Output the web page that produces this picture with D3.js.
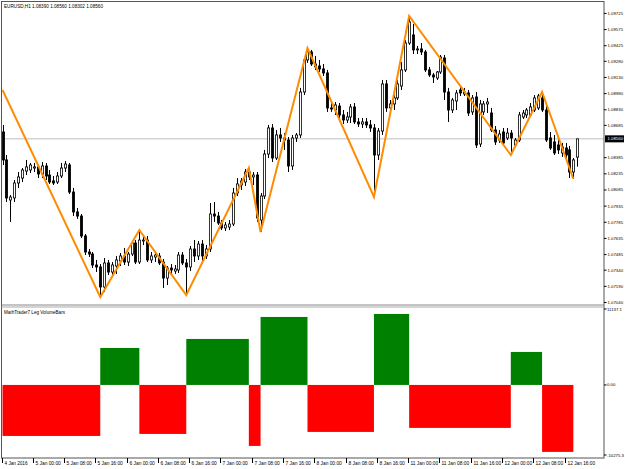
<!DOCTYPE html>
<html>
<head>
<meta charset="utf-8">
<script src="https://cdn.jsdelivr.net/npm/d3@7"></script>
<style>
body { margin: 0; background: #fff; }
svg { display: block; font-family: "Liberation Sans", Arial, sans-serif; }
</style>
</head>
<body>
<svg id="chart" width="625" height="469"></svg>
<script>
// EURUSD H1 candles, 4 Jan 16:00 .. 12 Jan 19:00
const openP = [1.08624,1.08364,1.07992,1.08011,1.08150,1.08196,1.08261,1.08271,1.08289,1.08299,
  1.08234,1.08308,1.08224,1.08169,1.08159,1.08215,1.08289,1.08317,1.08066,1.07881,
  1.07843,1.07658,1.07509,1.07490,1.07388,1.07370,1.07184,1.07407,1.07323,1.07379,
  1.07425,1.07472,1.07416,1.07490,1.07593,1.07416,1.07611,1.07620,1.07435,1.07462,
  1.07472,1.07416,1.07267,1.07360,1.07332,1.07342,1.07481,1.07407,1.07370,1.07537,
  1.07472,1.07583,1.07472,1.07537,1.07862,1.07843,1.07778,1.07732,1.07741,1.07769,
  1.08057,1.08131,1.08159,1.08252,1.08206,1.08224,1.07806,1.08029,1.08419,1.08661,
  1.08382,1.08596,1.08568,1.08549,1.08308,1.08568,1.08596,1.08995,1.09293,1.09367,
  1.09255,1.09237,1.09209,1.09172,1.08847,1.08828,1.08865,1.08782,1.08735,1.08763,
  1.08856,1.08717,1.08698,1.08717,1.08689,1.08661,1.08410,1.08633,1.09070,1.08847,
  1.08884,1.08940,1.09051,1.09200,1.09450,1.09525,1.09386,1.09395,1.09367,1.09200,
  1.09153,1.09125,1.09181,1.09311,1.08995,1.08828,1.08912,1.09014,1.08977,1.08986,
  1.08810,1.08949,1.08512,1.08810,1.08884,1.08800,1.08642,1.08549,1.08624,1.08568,
  1.08614,1.08503,1.08549,1.08763,1.08782,1.08782,1.08828,1.08847,1.08940,1.08828,
  1.08568,1.08531,1.08503,1.08429,1.08475,1.08457,1.08252,1.08390];
const highP = [1.08689,1.08410,1.08038,1.08178,1.08252,1.08289,1.08364,1.08336,1.08336,1.08317,
  1.08345,1.08336,1.08271,1.08215,1.08252,1.08336,1.08354,1.08336,1.08104,1.07918,
  1.07862,1.07676,1.07537,1.07509,1.07435,1.07397,1.07453,1.07435,1.07416,1.07472,
  1.07500,1.07546,1.07509,1.07611,1.07620,1.07713,1.07667,1.07658,1.07509,1.07500,
  1.07500,1.07444,1.07379,1.07397,1.07388,1.07509,1.07509,1.07444,1.07565,1.07620,
  1.07611,1.07620,1.07574,1.07964,1.07973,1.07881,1.07806,1.07788,1.07806,1.08104,
  1.08196,1.08196,1.08280,1.08289,1.08252,1.08252,1.08057,1.08457,1.08689,1.08698,
  1.08642,1.08661,1.08614,1.08577,1.08596,1.08614,1.09033,1.09311,1.09404,1.09386,
  1.09330,1.09293,1.09255,1.09200,1.08893,1.08902,1.08893,1.08828,1.08810,1.08884,
  1.08893,1.08754,1.08754,1.08754,1.08735,1.08698,1.08661,1.09107,1.09107,1.08921,
  1.08967,1.09107,1.09274,1.09478,1.09701,1.09627,1.09423,1.09450,1.09386,1.09228,
  1.09172,1.09190,1.09339,1.09339,1.09033,1.08940,1.09014,1.09060,1.09033,1.09014,
  1.08967,1.08995,1.08921,1.08912,1.08940,1.08847,1.08679,1.08642,1.08661,1.08661,
  1.08642,1.08568,1.08810,1.08828,1.08847,1.08893,1.08967,1.08977,1.08995,1.08865,
  1.08624,1.08596,1.08568,1.08522,1.08522,1.08494,1.08382,1.08560];
const lowP = [1.08317,1.07973,1.07788,1.07973,1.08104,1.08159,1.08224,1.08243,1.08252,1.08196,
  1.08196,1.08178,1.08141,1.08131,1.08141,1.08196,1.08252,1.08048,1.07843,1.07816,
  1.07639,1.07481,1.07462,1.07360,1.07323,1.07091,1.07137,1.07295,1.07295,1.07305,
  1.07379,1.07388,1.07379,1.07472,1.07397,1.07397,1.07574,1.07416,1.07407,1.07416,
  1.07388,1.07175,1.07202,1.07305,1.07305,1.07314,1.07388,1.07109,1.07332,1.07416,
  1.07435,1.07416,1.07444,1.07509,1.07788,1.07760,1.07713,1.07704,1.07713,1.07750,
  1.08029,1.08085,1.08122,1.08178,1.08131,1.07788,1.07695,1.08001,1.08382,1.08345,
  1.08364,1.08531,1.08457,1.08252,1.08271,1.08531,1.08568,1.08967,1.09265,1.09237,
  1.09200,1.09181,1.09144,1.08810,1.08810,1.08782,1.08754,1.08698,1.08707,1.08707,
  1.08698,1.08670,1.08661,1.08661,1.08624,1.08020,1.08364,1.08596,1.08810,1.08810,
  1.08828,1.08921,1.09014,1.09181,1.09432,1.09348,1.09348,1.09339,1.09181,1.09135,
  1.09079,1.09107,1.09163,1.08921,1.08717,1.08800,1.08828,1.08958,1.08958,1.08772,
  1.08782,1.08475,1.08484,1.08782,1.08800,1.08624,1.08503,1.08522,1.08494,1.08549,
  1.08410,1.08494,1.08531,1.08745,1.08754,1.08763,1.08810,1.08828,1.08810,1.08531,
  1.08457,1.08410,1.08419,1.08392,1.08364,1.08196,1.08187,1.08302];
const closeP = [1.08364,1.08011,1.08020,1.08150,1.08206,1.08271,1.08299,1.08317,1.08299,1.08234,
  1.08308,1.08215,1.08159,1.08150,1.08215,1.08289,1.08326,1.08066,1.07881,1.07843,
  1.07658,1.07509,1.07490,1.07388,1.07370,1.07184,1.07407,1.07323,1.07388,1.07435,
  1.07472,1.07416,1.07490,1.07593,1.07416,1.07620,1.07620,1.07435,1.07472,1.07481,
  1.07407,1.07267,1.07360,1.07342,1.07351,1.07481,1.07407,1.07370,1.07537,1.07472,
  1.07583,1.07472,1.07537,1.07862,1.07843,1.07778,1.07732,1.07760,1.07769,1.08057,
  1.08141,1.08169,1.08252,1.08206,1.08224,1.07825,1.08029,1.08419,1.08661,1.08382,
  1.08596,1.08568,1.08549,1.08308,1.08568,1.08596,1.08995,1.09293,1.09367,1.09255,
  1.09228,1.09209,1.09172,1.08847,1.08837,1.08875,1.08782,1.08735,1.08763,1.08856,
  1.08717,1.08698,1.08717,1.08689,1.08661,1.08410,1.08633,1.09070,1.08847,1.08884,
  1.08940,1.09070,1.09200,1.09450,1.09646,1.09386,1.09395,1.09367,1.09200,1.09153,
  1.09135,1.09181,1.09320,1.08995,1.08828,1.08921,1.08986,1.08986,1.08995,1.08800,
  1.08940,1.08503,1.08884,1.08884,1.08902,1.08642,1.08531,1.08605,1.08522,1.08614,
  1.08568,1.08549,1.08782,1.08800,1.08828,1.08856,1.08940,1.08958,1.08828,1.08549,
  1.08475,1.08429,1.08457,1.08484,1.08410,1.08252,1.08364,1.08560];

const timeTicks = [0, 8, 16, 24, 32, 40, 48, 56, 64, 72, 80, 88, 96, 104, 112, 120, 128, 136, 144];
const timeLabels = ["4 Jan 2016", "5 Jan 00:00", "5 Jan 08:00", "5 Jan 16:00", "6 Jan 00:00",
  "6 Jan 08:00", "6 Jan 16:00", "7 Jan 00:00", "7 Jan 08:00", "7 Jan 16:00", "8 Jan 00:00",
  "8 Jan 08:00", "8 Jan 16:00", "11 Jan 00:00", "11 Jan 08:00", "11 Jan 16:00",
  "12 Jan 00:00", "12 Jan 08:00", "12 Jan 16:00"];
const priceTicks = [1.09725, 1.09575, 1.09425, 1.09280, 1.09130, 1.08980, 1.08830, 1.08685,
  1.08385, 1.08235, 1.08085, 1.07935, 1.07785, 1.07635, 1.07485, 1.07340, 1.07190, 1.07040];

// zigzag turning points (bar index, price) and volume per leg
const zigIdx = [0, 25, 35, 47, 63, 66, 78, 95, 104, 130, 138, 146];
const zigPrice = [1.09014, 1.07091, 1.07713, 1.07109, 1.08289, 1.07695, 1.09404, 1.08020,
  1.09701, 1.08410, 1.08995, 1.08187];
const legVolume = [-7480, 5425, -7185, 6745, -8945, 9970, -6890, 10410, -6300, 4840, -9820];
const volTicks = [11137.1, 0, -10275.3];
const volTickLabels = ["11137.1", "0.00", "-10275.3"];

const lastPrice = 1.08560;
const header = "EURUSD,H1  1.08390 1.08560 1.08302 1.08560";
const indName = "MathTrader7 Leg VolumeBars";

const L = 2, R = 604;
const svg = d3.select("#chart");

svg.append("defs").append("clipPath").attr("id", "plot")
  .append("rect").attr("x", L).attr("y", 2).attr("width", R - L).attr("height", 454);

const x = d3.scaleBand().domain(d3.range(openP.length)).range([0.55, 0.55 + openP.length * 3.91]);
const cx = i => x(i) + x.bandwidth() / 2;
const y = d3.scaleLinear().domain([1.07026, 1.09831]).range([304, 2]);
const yv = d3.scaleLinear().domain([-10275.3, 11137.1]).range([455, 309]);

const g = svg.append("g").attr("clip-path", "url(#plot)");

// current price line
g.append("line")
  .attr("x1", L).attr("x2", R)
  .attr("y1", y(lastPrice)).attr("y2", y(lastPrice))
  .attr("stroke", "#d4d4d4").attr("stroke-width", 1.5);

const bars = d3.range(openP.length);

g.selectAll(".wick").data(bars).enter().append("line")
  .attr("x1", i => Math.round(cx(i)) + 0.5).attr("x2", i => Math.round(cx(i)) + 0.5)
  .attr("y1", i => y(highP[i])).attr("y2", i => y(lowP[i]))
  .attr("stroke", "#000").attr("stroke-width", 1);

g.selectAll(".body").data(bars).enter().append("rect")
  .attr("x", i => Math.round(cx(i)) + 0.5 - 1.1)
  .attr("y", i => y(Math.max(openP[i], closeP[i])))
  .attr("width", 2.2)
  .attr("height", i => Math.max(0.8, Math.abs(y(openP[i]) - y(closeP[i]))))
  .attr("fill", i => closeP[i] >= openP[i] ? "#fff" : "#000")
  .attr("stroke", "#000").attr("stroke-width", 0.8);

// zigzag
g.append("path")
  .datum(d3.range(zigIdx.length))
  .attr("d", d3.line().x(k => cx(zigIdx[k])).y(k => y(zigPrice[k])))
  .attr("fill", "none").attr("stroke", "#ff8c00").attr("stroke-width", 2);

// leg volume bars
g.selectAll(".vol").data(legVolume).enter().append("rect")
  .attr("x", (v, k) => cx(zigIdx[k]))
  .attr("width", (v, k) => cx(zigIdx[k + 1]) - cx(zigIdx[k]))
  .attr("y", v => yv(Math.max(0, v)))
  .attr("height", v => Math.abs(yv(v) - yv(0)))
  .attr("fill", v => v >= 0 ? "#008000" : "#ff0000");

// frame
const frame = svg.append("g").attr("fill", "none").attr("stroke", "#555");
frame.append("rect").attr("x", 1.5).attr("y", 1.5).attr("width", R - 1.5).attr("height", 456.5);
frame.append("line").attr("x1", 1.5).attr("x2", R).attr("y1", 305).attr("y2", 305).attr("stroke", "#888").attr("stroke-width", 1);
frame.append("line").attr("x1", 1.5).attr("x2", R).attr("y1", 307).attr("y2", 307).attr("stroke", "#aaa").attr("stroke-width", 1);

const fs = "5px";
// squeeze small labels to the narrow terminal font width
const fit = (sel, w) => sel.attr("textLength", w).attr("lengthAdjust", "spacingAndGlyphs");

// price axis (natural width, small font so it stays inside the window)
const pAx = svg.append("g").style("font-size", "4.3px");
priceTicks.forEach(p => {
  pAx.append("line").attr("x1", R).attr("x2", R + 2.5).attr("y1", y(p)).attr("y2", y(p)).attr("stroke", "#000");
  pAx.append("text").attr("x", R + 3.5).attr("y", y(p)).attr("dy", "0.35em").text(p.toFixed(5));
});
pAx.append("rect").attr("x", R + 1).attr("y", y(lastPrice) - 3.5).attr("width", 19).attr("height", 7).attr("fill", "#000");
pAx.append("text").attr("x", R + 3.5).attr("y", y(lastPrice)).attr("dy", "0.35em").attr("fill", "#fff").text(lastPrice.toFixed(5));

// volume axis
volTicks.forEach((v, k) => {
  pAx.append("line").attr("x1", R).attr("x2", R + 2.5).attr("y1", yv(v)).attr("y2", yv(v)).attr("stroke", "#000");
  pAx.append("text").attr("x", R + 3).attr("y", yv(v)).attr("dy", "0.35em").text(volTickLabels[k]);
});

// time axis
const tAx = svg.append("g").style("font-size", fs);
timeTicks.forEach((t, k) => {
  const tx = Math.round(cx(t)) - 0.5;
  tAx.append("line").attr("x1", tx).attr("x2", tx).attr("y1", 458).attr("y2", 463).attr("stroke", "#000");
  fit(tAx.append("text").attr("x", tx + 2).attr("y", 465).text(timeLabels[k]), timeLabels[k].length * 2.3);
});

fit(svg.append("text").attr("x", 4).attr("y", 8).style("font-size", fs).text(header), 99);
fit(svg.append("text").attr("x", 4).attr("y", 314).style("font-size", fs).text(indName), 61);
</script>
</body>
</html>
